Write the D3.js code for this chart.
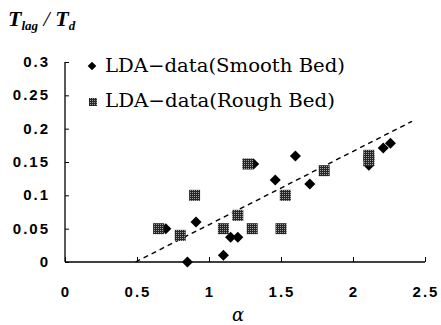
<!DOCTYPE html>
<html>
<head>
<meta charset="utf-8">
<script src="https://cdn.jsdelivr.net/npm/d3@7"></script>
<style>
  body { margin: 0; background: #fff; }
  .tick-label { font-family: "Liberation Sans", Arial, sans-serif; font-weight: bold; font-size: 15px; letter-spacing: 2px; }
  .legend { font-family: "DejaVu Serif", serif; font-size: 19px; }
</style>
</head>
<body>
<div id="vis"></div>
<script>
// smooth bed (diamonds)
var smoothX = [0.85, 1.1, 0.91, 1.15, 1.2, 0.7, 1.31, 1.46, 1.6, 1.7, 2.11, 2.21, 2.26];
var smoothY = [0, 0.01, 0.06, 0.037, 0.037, 0.05, 0.147, 0.123, 0.159, 0.117, 0.145, 0.171, 0.178];
// rough bed (squares)
var roughX = [0.65, 0.8, 0.9, 1.1, 1.2, 1.3, 1.5, 1.27, 1.53, 1.8, 2.11, 2.11];
var roughY = [0.05, 0.04, 0.1, 0.05, 0.07, 0.05, 0.05, 0.147, 0.1, 0.137, 0.16, 0.152];
// dashed trend line
var trendX = [0.49, 2.41];
var trendY = [0, 0.211];

var xTicks = [0, 0.5, 1, 1.5, 2, 2.5];
var xTickLabels = ['0', '0.5', '1', '1.5', '2', '2.5'];
var yTicks = [0, 0.05, 0.1, 0.15, 0.2, 0.25, 0.3];
var yTickLabels = ['0', '0.05', '0.1', '0.15', '0.2', '0.25', '0.3'];
var legendLabels = ['LDA\u2212data(Smooth Bed)', 'LDA\u2212data(Rough Bed)'];

var width = 441;
var height = 325;

var x = d3.scaleLinear().domain([0, 2.5]).range([65, 425]);
var y = d3.scaleLinear().domain([0, 0.3]).range([262, 62]);

var svg = d3.select('#vis')
  .append('svg')
  .attr('width', width)
  .attr('height', height);

// stipple fill for the squares
var pat = svg.append('defs').append('pattern')
  .attr('id', 'stip')
  .attr('width', 2)
  .attr('height', 2)
  .attr('patternUnits', 'userSpaceOnUse');
pat.append('rect').attr('width', 2).attr('height', 2).attr('fill', '#262626');
pat.append('rect').attr('width', 1).attr('height', 1).attr('fill', '#a0a0a0');

// axes, ticks pointing inward
var xAxis = d3.axisTop(x).tickValues(xTicks).tickSize(5).tickFormat('');
svg.append('g')
  .attr('transform', 'translate(0,' + y(0) + ')')
  .call(xAxis)
  .call(function (g) {
    g.select('.domain').attr('d', 'M' + x(0) + ',0H' + x(2.5)).attr('stroke-width', 1.3);
  });

var yAxis = d3.axisRight(y).tickValues(yTicks).tickSize(4).tickFormat('');
svg.append('g')
  .attr('transform', 'translate(' + x(0) + ',0)')
  .call(yAxis)
  .call(function (g) {
    g.select('.domain').attr('d', 'M0,' + y(0) + 'V' + y(0.3)).attr('stroke-width', 1.3);
  });

svg.selectAll('.xlab')
  .data(xTicks)
  .enter().append('text')
  .attr('class', 'tick-label')
  .attr('x', function (d) { return x(d) + 1; })
  .attr('y', 297)
  .attr('text-anchor', 'middle')
  .text(function (d, i) { return xTickLabels[i]; });

svg.selectAll('.ylab')
  .data(yTicks)
  .enter().append('text')
  .attr('class', 'tick-label')
  .attr('x', 50)
  .attr('y', function (d) { return y(d) + 5; })
  .attr('text-anchor', 'end')
  .text(function (d, i) { return yTickLabels[i]; });

// trend line
var line = d3.line()
  .x(function (d) { return x(d[0]); })
  .y(function (d) { return y(d[1]); });
svg.append('path')
  .datum(d3.zip(trendX, trendY))
  .attr('d', line)
  .attr('fill', 'none')
  .attr('stroke', '#000')
  .attr('stroke-width', 1.4)
  .attr('stroke-dasharray', '5,4');

var diamond = d3.symbol().type(d3.symbolDiamond2).size(78);

svg.selectAll('.smooth')
  .data(d3.zip(smoothX, smoothY))
  .enter().append('path')
  .attr('class', 'smooth')
  .attr('d', diamond)
  .attr('transform', function (d) { return 'translate(' + x(d[0]) + ',' + y(d[1]) + ')'; })
  .attr('fill', '#000');

svg.selectAll('.rough')
  .data(d3.zip(roughX, roughY))
  .enter().append('rect')
  .attr('class', 'rough')
  .attr('x', function (d) { return x(d[0]) - 5.5; })
  .attr('y', function (d) { return y(d[1]) - 5.5; })
  .attr('width', 11)
  .attr('height', 11)
  .attr('fill', 'url(#stip)');

// legend
svg.append('path')
  .attr('d', d3.symbol().type(d3.symbolDiamond2).size(48))
  .attr('transform', 'translate(92,66)')
  .attr('fill', '#000');
svg.append('rect')
  .attr('x', 89).attr('y', 98)
  .attr('width', 8).attr('height', 8)
  .attr('fill', 'url(#stip)');

svg.selectAll('.legend')
  .data(legendLabels)
  .enter().append('text')
  .attr('class', 'legend')
  .attr('x', 105)
  .attr('y', function (d, i) { return 72 + i * 35; })
  .attr('textLength', function (d, i) { return i === 0 ? 240 : 230; })
  .attr('lengthAdjust', 'spacingAndGlyphs')
  .text(function (d) { return d; });

// axis titles
var yTitle = svg.append('text')
  .attr('x', 8)
  .attr('y', 26)
  .attr('font-family', '"Liberation Serif", serif')
  .attr('font-style', 'italic')
  .attr('font-weight', 'bold')
  .attr('font-size', 22);
yTitle.append('tspan').text('T');
yTitle.append('tspan').attr('font-size', 13).attr('dy', 4).text('lag');
yTitle.append('tspan').attr('dy', -4).attr('font-weight', 'normal').text(' / ');
yTitle.append('tspan').text('T');
yTitle.append('tspan').attr('font-size', 13).attr('dy', 4).text('d');

svg.append('text')
  .attr('x', 238)
  .attr('y', 321)
  .attr('text-anchor', 'middle')
  .attr('font-family', '"DejaVu Serif", serif')
  .attr('font-style', 'italic')
  .attr('font-size', 18)
  .text('\u03b1');
</script>
</body>
</html>
